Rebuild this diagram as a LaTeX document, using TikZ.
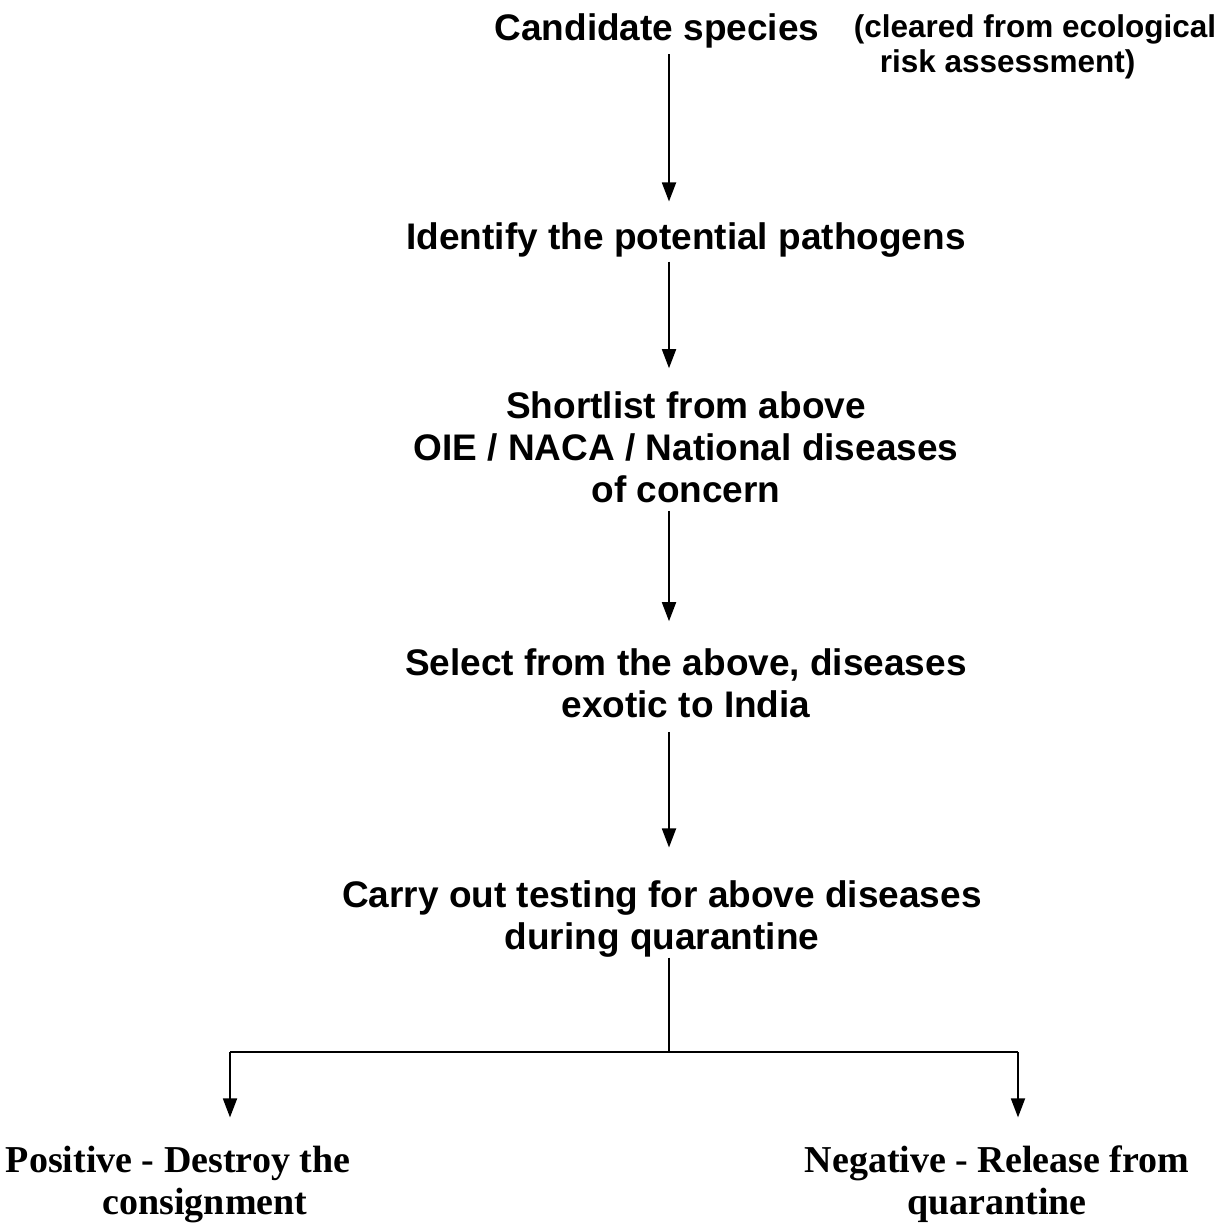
\documentclass[tikz,border=0pt]{standalone}
\usepackage{fontspec}
\setmainfont{Liberation Serif}
\setsansfont{Liberation Sans}
\usepackage{tikz}
\usetikzlibrary{arrows.meta, positioning}
\tikzstyle{stage} = [inner sep=0pt, align=center, font=\sffamily\bfseries\fontsize{37}{42}\selectfont]
\tikzstyle{remark} = [inner sep=0pt, align=left, font=\sffamily\bfseries\fontsize{31.5}{35}\selectfont]
\tikzstyle{outcome} = [inner sep=0pt, align=center, font=\rmfamily\bfseries\fontsize{38}{42}\selectfont]
\tikzstyle{arrow} = [line width=1.8pt,-{Triangle[width=14pt,length=19pt]}]

\begin{document}
\begin{tikzpicture}[x=1pt,y=-1pt]
        \useasboundingbox (0,0) rectangle (1228,1225);
        \coordinate (axis) at (669,0);
        \node[stage] (cand) at (657,31) {Candidate species};
        \node[remark] (note) at (1035,47) {(cleared from ecological\\\hspace*{26pt}risk assessment)};
        \node[stage] (ident) at (686,240) {Identify the potential pathogens};
        \node[stage] (short) at (686,447) {Shortlist from above\\OIE / NACA / National diseases\\of concern};
        \node[stage] (select) at (686,683) {Select from the above, diseases\\exotic to India};
        \node[stage] (carry) at (662,919) {Carry out testing for above diseases\\during quarantine};
        \node[outcome] (pos) at (178,1184) {Positive - Destroy the\\\hspace*{54pt}consignment};
        \node[outcome] (neg) at (997,1184) {Negative - Release from\\quarantine};
        \coordinate (fork) at (669,1052);
        \coordinate (lft) at (230,1052);
        \coordinate (rgt) at (1018,1052);
        \draw[arrow, shorten <=6pt, shorten >=21pt] (cand.south -| axis) -- (ident.north -| axis);
        \draw[arrow, shorten <=4pt, shorten >=23pt] (ident.south -| axis) -- (short.north -| axis);
        \draw[arrow, shorten <=8pt, shorten >=27pt] (short.south -| axis) -- (select.north -| axis);
        \draw[arrow, shorten <=14pt, shorten >=33pt] (select.south -| axis) -- (carry.north -| axis);
        \draw[line width=1.2pt] (carry.south -| axis) -- (fork);
        \draw[line width=2.6pt] (lft) -- (rgt);
        \draw[arrow, shorten >=28pt] (lft) -- (pos.north -| lft);
        \draw[arrow, shorten >=28pt] (rgt) -- (neg.north -| rgt);
      \end{tikzpicture}
\end{document}
